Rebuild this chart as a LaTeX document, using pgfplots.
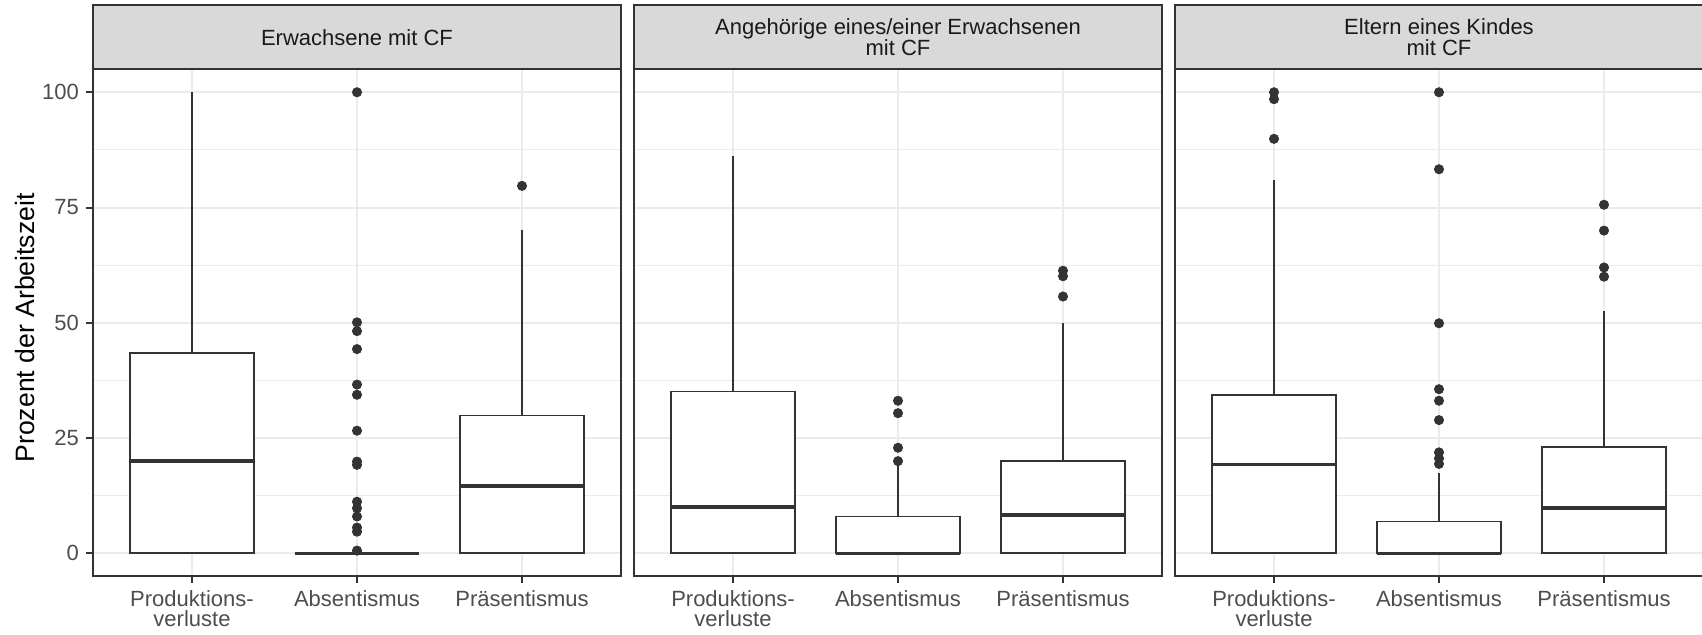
\documentclass[border=0pt]{standalone}
\usepackage{fontspec}
\setmainfont{Liberation Sans}
\usepackage{pgfplots}
\pgfplotsset{compat=1.18}
\usepgfplotslibrary{statistics}

\definecolor{gray10}{HTML}{1A1A1A}
\definecolor{gray20}{HTML}{333333}
\definecolor{gray30}{HTML}{4D4D4D}
\definecolor{gray85}{HTML}{D9D9D9}
\definecolor{gray92}{HTML}{EBEBEB}

\pgfplotsset{
  panel/.style={
    scale only axis, width=264pt, height=253.6pt,
    anchor=south west,
    xmin=0.4, xmax=3.6, ymin=-5, ymax=105,
    xtick={1,2,3},
    xticklabels={{Produktions-\\verluste},Absentismus,Präsentismus},
    ytick={0,25,50,75,100},
    minor ytick={12.5,37.5,62.5,87.5},
    xmajorgrids, ymajorgrids, yminorgrids,
    major grid style={draw=gray92, line width=1pt},
    minor grid style={draw=gray92, line width=0.5pt},
    minor tick length=0pt,
    tick align=outside, major tick length=3.5pt,
    tick pos=left,
    tick style={draw=gray20, line width=1pt},
    axis line style={draw=gray20, line width=1pt},
    tick label style={font=\fontsize{11}{10}\selectfont, text=gray30},
    xticklabel style={align=center},
    /pgf/number format/assume math mode=true,
    clip=false,
    boxplot/draw direction=y,
    boxplot/every box/.style={draw=gray20, line width=0.95pt, fill=white},
    boxplot/every whisker/.style={draw=gray20, line width=0.95pt},
    boxplot/every median/.style={draw=gray20, line width=1.8pt},
  },
  outl/.style={only marks, mark=*, mark size=2.3pt, draw=gray20, fill=gray20},
}

% facet strip on top of the current panel
\newcommand{\strip}[1]{%
  \draw[fill=gray85, draw=gray20, line width=1pt]
    (rel axis cs:0,1) rectangle ([yshift=32pt]rel axis cs:1,1);
  \node[font=\fontsize{11}{10.5}\selectfont, text=gray10, align=center]
    at ([yshift=16pt]rel axis cs:0.5,1) {#1};
}

% one box: position, median, upper quartile, upper whisker (lower quartile and whisker are 0)
\newcommand{\bx}[4]{%
  \addplot[boxplot prepared={draw position=#1, median=#2, upper quartile=#3,
      lower quartile=0, upper whisker=#4, lower whisker=0,
      box extend=0.75, whisker extend=0}] coordinates {};
}

\begin{document}
\begin{tikzpicture}
\useasboundingbox (0,0) rectangle (851pt,317pt);

% Erwachsene mit CF
\begin{axis}[panel, at={(46.5pt,28.8pt)},
  ylabel={Prozent der Arbeitszeit},
  every axis y label/.style={at={(axis description cs:-0.128,0.49)}, rotate=90,
    anchor=center, font=\fontsize{13.3}{16}\selectfont, text=black}]
  \bx{1}{20.0}{43.5}{100}
  \bx{2}{0}{0}{0}
  \bx{3}{14.6}{29.9}{70.2}
  \addplot[outl] coordinates {
    (2,100) (2,50.1) (2,48.2) (2,44.3) (2,36.6) (2,34.4) (2,26.6) (2,19.9)
    (2,19.2) (2,11.2) (2,9.8) (2,8.0) (2,5.6) (2,4.7) (2,0.6)
    (3,79.7)};
  \strip{Erwachsene mit CF}
\end{axis}

% Angehörige eines/einer Erwachsenen mit CF
\begin{axis}[panel, at={(317pt,28.8pt)}, yticklabels={}, ytick style={draw=none}]
  \bx{1}{10.1}{35.1}{86.1}
  \bx{2}{0}{8.0}{19.0}
  \bx{3}{8.3}{20.0}{49.9}
  \addplot[outl] coordinates {
    (2,20.0) (2,22.9) (2,30.4) (2,33.1)
    (3,55.7) (3,60.1) (3,61.3)};
  \strip{Angehörige eines/einer Erwachsenen\\mit CF}
\end{axis}

% Eltern eines Kindes mit CF
\begin{axis}[panel, at={(587.5pt,28.8pt)}, yticklabels={}, ytick style={draw=none}]
  \bx{1}{19.3}{34.3}{81.0}
  \bx{2}{0}{6.9}{17.4}
  \bx{3}{9.9}{23.0}{52.6}
  \addplot[outl] coordinates {
    (1,89.9) (1,98.5) (1,100)
    (2,19.4) (2,20.6) (2,21.9) (2,28.9) (2,33.1) (2,35.6) (2,49.9) (2,83.3) (2,100)
    (3,60.0) (3,62.0) (3,70.0) (3,75.6)};
  \strip{Eltern eines Kindes\\mit CF}
\end{axis}
\end{tikzpicture}
\end{document}
